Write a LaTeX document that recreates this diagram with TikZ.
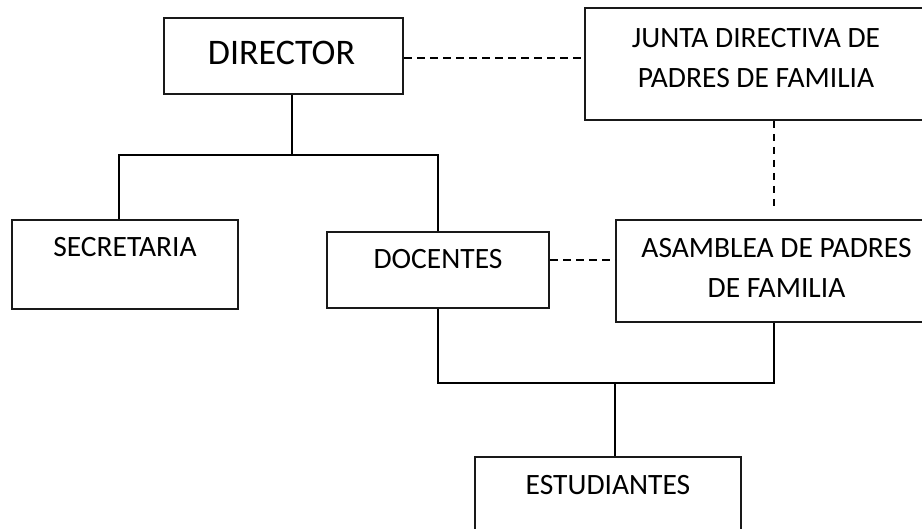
\documentclass[tikz,border=0pt]{standalone}
\usepackage{fontspec}
\setmainfont{Carlito}
\begin{document}
\begin{tikzpicture}[x=1pt,y=-1pt,
  box/.style={draw=black!90, line width=2pt, rectangle, inner sep=0pt, anchor=north west},
  conn/.style={draw=black, line width=2.2pt},
  dsh/.style={draw=black, line width=1.9pt, dash pattern=on 8pt off 5pt},
  txt/.style={inner sep=0pt, font=\fontsize{29.5}{40}\selectfont, align=center},
  bigtxt/.style={inner sep=0pt, font=\fontsize{36}{40}\selectfont}]
\useasboundingbox (0,0) rectangle (922,529);
% boxes
\node[box, minimum width=239pt, minimum height=76pt] (director) at (163,17) {};
\node[box, minimum width=342pt, minimum height=112pt] (junta) at (584,7) {};
\node[box, minimum width=226pt, minimum height=89pt] (secretaria) at (11,219) {};
\node[box, minimum width=222pt, minimum height=76pt] (docentes) at (326,231) {};
\node[box, minimum width=319pt, minimum height=102pt] (asamblea) at (615,219) {};
\node[box, minimum width=266pt, minimum height=104pt] (estudiantes) at (474,456) {};
% texts
\node[bigtxt, anchor=base] (director-t) at ([yshift=-48pt,xshift=-2pt]director.north) {DIRECTOR};
\node[txt, anchor=base] (junta-t1) at ([yshift=-41pt]junta.north) {JUNTA DIRECTIVA DE};
\node[txt, anchor=base] (junta-t2) at ([yshift=-81pt]junta.north) {PADRES DE FAMILIA};
\node[txt, anchor=base] (secretaria-t) at ([yshift=-38pt]secretaria.north) {SECRETARIA};
\node[txt, anchor=base] (docentes-t) at ([yshift=-38pt]docentes.north) {DOCENTES};
\node[txt, anchor=base] (asamblea-t1) at ([yshift=-39pt,xshift=1pt]asamblea.north) {ASAMBLEA DE PADRES};
\node[txt, anchor=base] (asamblea-t2) at ([yshift=-79pt,xshift=1pt]asamblea.north) {DE FAMILIA};
\node[txt, anchor=base] (estudiantes-t) at ([yshift=-38pt]estudiantes.north) {ESTUDIANTES};
% junction coordinates
\coordinate (bus1) at (292,155);
\coordinate (jv) at (774,212);
\coordinate (bus2) at (615,383);
\coordinate (av) at (774,383);
% solid connectors
\draw[conn] (bus1 |- director.south) -- (bus1);
\draw[conn] ([xshift=-6pt]secretaria.north) |- (bus1) -| (docentes.north);
\draw[conn] (docentes.south) |- (av) -- (av |- asamblea.south);
\draw[conn] (bus2) -- (bus2 |- estudiantes.north);
% dashed connectors
\draw[dsh] ([yshift=-2pt]director.east) -- ([yshift=-2pt]director.east -| junta.west);
\draw[dsh, line width=1.4pt, dash pattern=on 7pt off 6pt] (jv |- junta.south) -- (jv);
\draw[dsh] ([yshift=10pt]docentes.east) -- ([yshift=10pt]docentes.east -| asamblea.west);
\end{tikzpicture}
\end{document}
